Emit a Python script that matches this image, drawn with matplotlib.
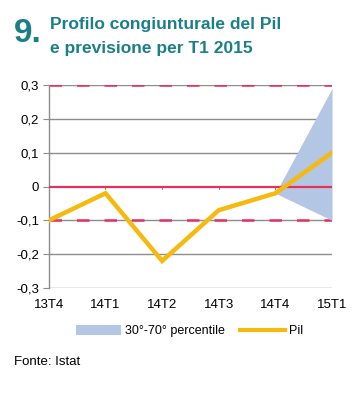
import matplotlib
matplotlib.use("Agg")
import matplotlib.pyplot as plt
from matplotlib.patches import Patch
from matplotlib.lines import Line2D

categories = ["13T4", "14T1", "14T2", "14T3", "14T4", "15T1"]
pil = [-0.10, -0.02, -0.22, -0.07, -0.02, 0.10]
band_x = ["14T4", "15T1"]
band_low = [-0.02, -0.10]
band_high = [-0.02, 0.29]
yticks = [-0.3, -0.2, -0.1, 0, 0.1, 0.2, 0.3]
ytick_labels = ["-0,3", "-0,2", "-0,1", "0", "0,1", "0,2", "0,3"]

teal = "#1b7f86"
red = "#e6305f"
yellow = "#f6b910"
blue = "#b3c6e4"
grid = "#8c8c8c"

fam = ["Liberation Sans", "DejaVu Sans"]
plt.rcParams['font.family'] = fam

fig = plt.figure(figsize=(3.54, 4.0), dpi=100)
ax = fig.add_axes([0.138, 0.28, 0.800, 0.5075])

xs = list(range(len(categories)))
bx = [categories.index(c) for c in band_x]

for y in yticks:
    if y in (0.3, -0.1):
        ax.axhline(y, color=grid, lw=1.0, zorder=1)
        ax.axhline(y, color=red, lw=1.8, dashes=(5, 6), zorder=2)
    elif y == 0:
        pass
    else:
        ax.axhline(y, color=grid, lw=1.0, zorder=1)

ax.fill_between(bx, band_low, band_high, color=blue, lw=0, zorder=3)
ax.axhline(0, color=red, lw=1.6, zorder=4)
for x in xs[1:-1]:
    ax.plot([x, x], [0, -0.008], color=grid, lw=0.8, zorder=3)
ax.plot(xs, pil, color=yellow, lw=3.2, zorder=5, solid_joinstyle='miter')

ax.set_xlim(0, len(categories) - 1)
ax.set_ylim(-0.3, 0.3)
ax.set_yticks(yticks)
ax.set_yticklabels(ytick_labels)
ax.set_xticks(xs)
ax.set_xticklabels(categories)
for s in ["top", "right", "bottom"]:
    ax.spines[s].set_visible(False)
ax.spines["left"].set_color(grid)
ax.spines["left"].set_linewidth(1.0)
ax.tick_params(axis='y', length=4, color=grid, labelsize=9.5, pad=3)
ax.tick_params(axis='x', length=0, labelsize=9.5, pad=8)

handles = [Patch(facecolor=blue, edgecolor='none'),
           Line2D([0], [0], color=yellow, lw=3)]
fig.legend(handles, ["30°-70° percentile", "Pil"], loc='center',
           bbox_to_anchor=(0.535, 0.172), ncol=2, frameon=False, fontsize=9,
           handlelength=3.6, handleheight=0.9, handletextpad=0.3,
           columnspacing=1.2)

fig.text(0.04, 0.915, "9.", color=teal, fontsize=24, fontweight='bold',
         va='center')
fig.text(0.14, 0.94, "Profilo congiunturale del Pil", color=teal,
         fontsize=12.5, fontweight='bold', va='center')
fig.text(0.14, 0.88, "e previsione per T1 2015", color=teal,
         fontsize=12.5, fontweight='bold', va='center')
fig.text(0.04, 0.095, "Fonte: Istat", fontsize=9.5, va='center')

fig.savefig("out.png", dpi=100)
